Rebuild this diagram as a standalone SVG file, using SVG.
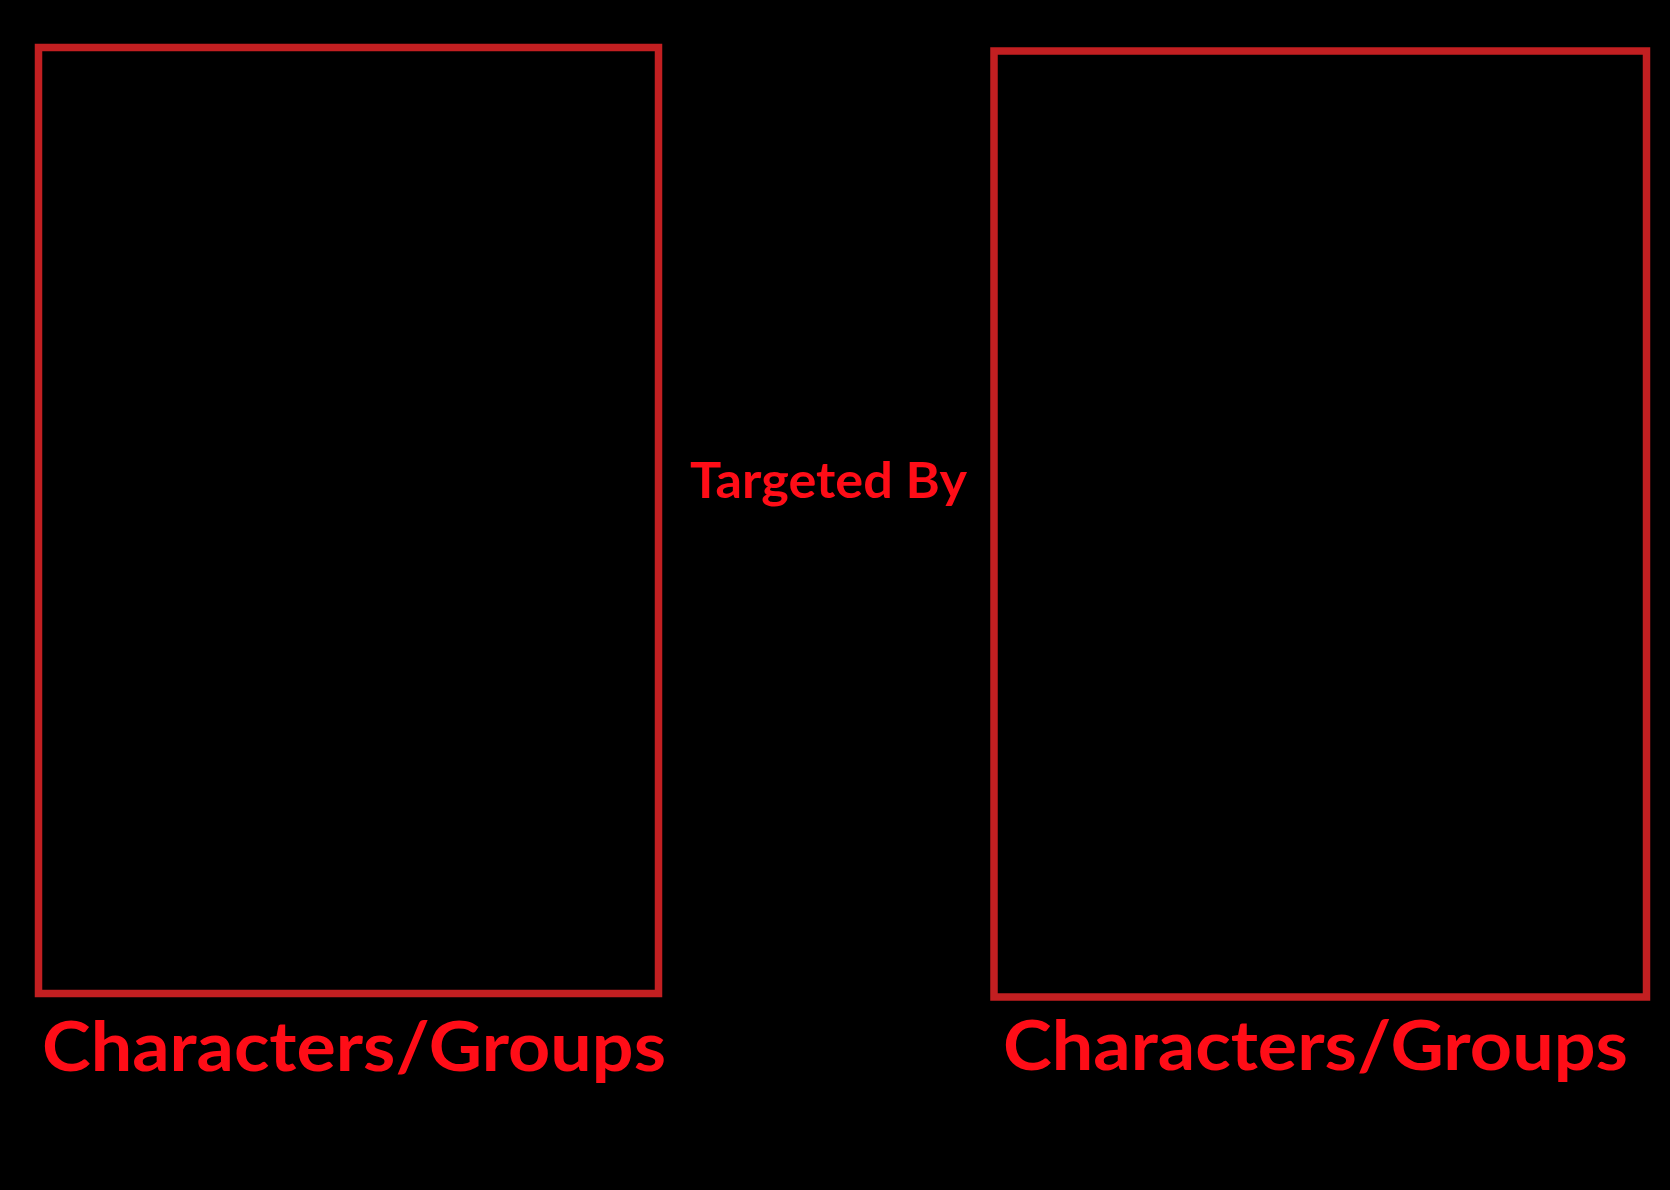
<svg xmlns="http://www.w3.org/2000/svg" width="1670" height="1190" viewBox="0 0 1670 1190">
<style>
.box{fill:none;stroke:#c21f21;stroke-width:7.5}
.lbl{font-family:Lato,"Open Sans","Liberation Sans",sans-serif;font-weight:bold;fill:#ff0d17}
</style>
<rect x="0" y="0" width="1670" height="1190" fill="#000"/>
<g id="left-node">
<rect class="box" x="38.5" y="47.5" width="620" height="946"/>
<text class="lbl" x="42" y="1071" font-size="68" textLength="624" lengthAdjust="spacingAndGlyphs">Characters/Groups</text>
</g>
<g id="right-node">
<rect class="box" x="994" y="51" width="652.5" height="946"/>
<text class="lbl" x="1003" y="1070" font-size="68" textLength="625" lengthAdjust="spacingAndGlyphs">Characters/Groups</text>
</g>
<g id="connectors">
<text class="lbl" x="690" y="498" font-size="50" textLength="277" lengthAdjust="spacingAndGlyphs">Targeted By</text>
</g>
</svg>
